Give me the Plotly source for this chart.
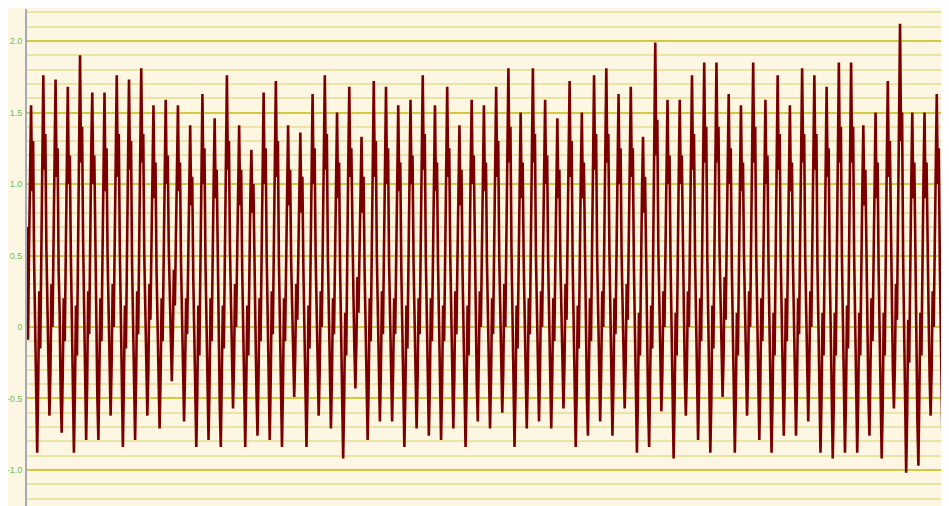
import plotly.graph_objects as go

# Signal values, left to right (peaks/troughs of each wave with the
# jitter inside the dark bands). Split into several short segments.
seg_start = [0.70, -0.09, 0.55, 1.15]
seg_a = [
    1.55, 0.95, 1.30, 0.45, 0.05, -0.55, -0.88, -0.40, 0.25, -0.15, 0.65, 1.05,
    1.76, 1.10, 1.35, 0.55, 0.20, -0.35, -0.62, -0.30, 0.30, 0.00, 0.70, 1.20,
    1.73, 1.05, 1.25, 0.40, 0.10, -0.45, -0.74, -0.35, 0.20, -0.10, 0.60, 1.10,
    1.68, 1.00, 1.20, 0.50, 0.00, -0.60, -0.88, -0.45, 0.15, -0.20, 0.55, 1.15,
    1.90, 1.15, 1.40, 0.60, 0.15, -0.50, -0.79, -0.40, 0.25, -0.05, 0.70, 1.25,
    1.64, 1.00, 1.20, 0.45, 0.05, -0.50, -0.79, -0.35, 0.20, -0.10, 0.60, 1.05,
    1.64, 0.95, 1.25, 0.50, 0.20, -0.30, -0.62, -0.25, 0.30, 0.00, 0.65, 1.15,
    1.76, 1.05, 1.35, 0.55, 0.05, -0.55, -0.84, -0.40, 0.15, -0.15, 0.60, 1.20,
    1.73, 1.10, 1.30, 0.45, 0.10, -0.50, -0.79, -0.35, 0.25, -0.05, 0.70, 1.25,
    1.81, 1.15, 1.35, 0.50, 0.20, -0.30, -0.62, -0.30, 0.30, 0.05, 0.65, 1.05,
    1.55, 0.90, 1.15, 0.40, 0.05, -0.45, -0.71, -0.35, 0.20, -0.10, 0.55, 1.10,
    1.59, 1.00, 1.20, 0.55, 0.30, -0.10, -0.38, -0.05, 0.40, 0.15, 0.70, 1.10,
    1.55, 0.95, 1.15, 0.45, 0.10, -0.40, -0.66, -0.30, 0.20, -0.05, 0.50, 0.95,
    1.41, 0.85, 1.05, 0.35, 0.00, -0.55, -0.84, -0.45, 0.15, -0.20, 0.55, 1.05,
    1.63, 1.00, 1.25, 0.45, 0.05, -0.50, -0.79, -0.40, 0.20, -0.10, 0.60, 1.00,
]
seg_b = [
    1.46, 0.90, 1.10, 0.40, 0.00, -0.55, -0.84, -0.45, 0.15, -0.15, 0.65, 1.20,
    1.76, 1.10, 1.30, 0.55, 0.20, -0.30, -0.57, -0.25, 0.30, 0.00, 0.55, 1.00,
    1.41, 0.85, 1.10, 0.40, 0.05, -0.55, -0.84, -0.40, 0.15, -0.20, 0.50, 0.90,
    1.24, 0.80, 1.00, 0.35, 0.00, -0.45, -0.76, -0.35, 0.20, -0.10, 0.60, 1.10,
    1.64, 1.00, 1.25, 0.50, 0.10, -0.50, -0.79, -0.35, 0.25, -0.05, 0.65, 1.15,
    1.72, 1.05, 1.30, 0.45, 0.05, -0.55, -0.84, -0.40, 0.20, -0.10, 0.55, 1.00,
    1.41, 0.85, 1.10, 0.45, 0.15, -0.25, -0.49, -0.20, 0.30, 0.05, 0.55, 0.95,
    1.36, 0.80, 1.05, 0.40, 0.00, -0.55, -0.84, -0.45, 0.15, -0.15, 0.60, 1.10,
    1.63, 1.00, 1.25, 0.50, 0.15, -0.35, -0.62, -0.30, 0.25, 0.00, 0.70, 1.20,
    1.76, 1.10, 1.35, 0.50, 0.10, -0.40, -0.71, -0.35, 0.20, -0.05, 0.60, 1.05,
    1.50, 0.90, 1.15, 0.40, 0.00, -0.60, -0.92, -0.50, 0.10, -0.20, 0.65, 1.15,
    1.68, 1.05, 1.25, 0.55, 0.25, -0.15, -0.43, -0.10, 0.35, 0.10, 0.55, 0.95,
    1.33, 0.80, 1.05, 0.40, 0.05, -0.50, -0.79, -0.40, 0.20, -0.10, 0.65, 1.15,
    1.72, 1.05, 1.30, 0.50, 0.10, -0.40, -0.66, -0.30, 0.25, -0.05, 0.60, 1.10,
    1.68, 1.00, 1.25, 0.45, 0.10, -0.40, -0.66, -0.30, 0.20, -0.05, 0.55, 1.00,
]
seg_c = [
    1.55, 0.95, 1.15, 0.40, 0.00, -0.55, -0.84, -0.45, 0.15, -0.15, 0.60, 1.05,
    1.59, 1.00, 1.20, 0.45, 0.10, -0.45, -0.71, -0.35, 0.20, -0.05, 0.65, 1.15,
    1.76, 1.10, 1.35, 0.50, 0.05, -0.50, -0.76, -0.40, 0.20, -0.10, 0.60, 1.05,
    1.55, 0.95, 1.15, 0.45, 0.05, -0.50, -0.79, -0.40, 0.15, -0.10, 0.65, 1.10,
    1.68, 1.05, 1.25, 0.50, 0.10, -0.45, -0.71, -0.35, 0.25, -0.05, 0.55, 0.95,
    1.41, 0.85, 1.10, 0.40, 0.00, -0.55, -0.84, -0.45, 0.15, -0.20, 0.60, 1.10,
    1.59, 1.00, 1.20, 0.50, 0.15, -0.40, -0.66, -0.30, 0.25, 0.00, 0.60, 1.05,
    1.55, 0.95, 1.15, 0.45, 0.10, -0.45, -0.71, -0.35, 0.20, -0.05, 0.65, 1.15,
    1.68, 1.05, 1.30, 0.50, 0.15, -0.35, -0.60, -0.30, 0.30, 0.00, 0.70, 1.25,
    1.81, 1.15, 1.40, 0.55, 0.05, -0.55, -0.84, -0.45, 0.15, -0.15, 0.55, 1.00,
    1.50, 0.90, 1.15, 0.45, 0.10, -0.45, -0.71, -0.35, 0.20, -0.05, 0.70, 1.25,
    1.81, 1.15, 1.35, 0.50, 0.10, -0.40, -0.66, -0.30, 0.25, 0.00, 0.60, 1.05,
    1.59, 1.00, 1.20, 0.45, 0.05, -0.45, -0.71, -0.35, 0.20, -0.10, 0.55, 1.00,
    1.46, 0.90, 1.10, 0.45, 0.15, -0.30, -0.57, -0.25, 0.30, 0.05, 0.65, 1.15,
    1.72, 1.05, 1.30, 0.45, 0.05, -0.55, -0.84, -0.45, 0.15, -0.15, 0.60, 1.05,
]
seg_d = [
    1.50, 0.90, 1.15, 0.45, 0.05, -0.50, -0.76, -0.40, 0.20, -0.10, 0.65, 1.15,
    1.76, 1.10, 1.35, 0.50, 0.10, -0.40, -0.66, -0.30, 0.25, 0.00, 0.70, 1.20,
    1.81, 1.15, 1.35, 0.55, 0.10, -0.45, -0.76, -0.40, 0.20, -0.05, 0.60, 1.05,
    1.63, 1.00, 1.25, 0.50, 0.20, -0.30, -0.57, -0.25, 0.30, 0.05, 0.65, 1.10,
    1.68, 1.05, 1.25, 0.45, 0.00, -0.60, -0.88, -0.50, 0.10, -0.20, 0.55, 0.95,
    1.33, 0.80, 1.05, 0.40, 0.00, -0.55, -0.84, -0.45, 0.15, -0.15, 0.70, 1.30,
    1.99, 1.20, 1.45, 0.55, 0.15, -0.35, -0.59, -0.30, 0.25, 0.00, 0.60, 1.05,
    1.59, 1.00, 1.20, 0.45, 0.00, -0.60, -0.92, -0.50, 0.10, -0.20, 0.60, 1.05,
    1.59, 1.00, 1.20, 0.50, 0.15, -0.35, -0.62, -0.30, 0.25, 0.00, 0.70, 1.20,
    1.76, 1.10, 1.35, 0.50, 0.05, -0.50, -0.79, -0.40, 0.20, -0.10, 0.65, 1.20,
    1.85, 1.15, 1.40, 0.50, 0.00, -0.60, -0.88, -0.50, 0.15, -0.15, 0.70, 1.25,
    1.85, 1.15, 1.40, 0.55, 0.20, -0.25, -0.49, -0.20, 0.35, 0.05, 0.60, 1.05,
    1.63, 1.00, 1.25, 0.45, 0.00, -0.60, -0.88, -0.50, 0.10, -0.20, 0.55, 1.00,
    1.55, 0.95, 1.15, 0.50, 0.15, -0.35, -0.62, -0.30, 0.25, 0.00, 0.70, 1.25,
    1.85, 1.15, 1.40, 0.50, 0.05, -0.50, -0.79, -0.40, 0.20, -0.10, 0.60, 1.05,
]
seg_e = [
    1.59, 1.00, 1.20, 0.45, 0.00, -0.60, -0.88, -0.50, 0.10, -0.20, 0.65, 1.15,
    1.76, 1.10, 1.35, 0.50, 0.05, -0.50, -0.76, -0.40, 0.20, -0.10, 0.60, 1.05,
    1.55, 0.95, 1.15, 0.45, 0.05, -0.50, -0.76, -0.40, 0.20, -0.05, 0.70, 1.25,
    1.81, 1.15, 1.35, 0.50, 0.10, -0.40, -0.66, -0.30, 0.25, 0.00, 0.65, 1.20,
    1.76, 1.10, 1.35, 0.45, 0.00, -0.60, -0.88, -0.50, 0.10, -0.20, 0.60, 1.10,
    1.68, 1.05, 1.25, 0.45, -0.05, -0.65, -0.92, -0.55, 0.10, -0.20, 0.70, 1.25,
    1.85, 1.15, 1.40, 0.50, 0.00, -0.60, -0.88, -0.50, 0.15, -0.15, 0.70, 1.25,
    1.85, 1.15, 1.40, 0.50, 0.00, -0.60, -0.88, -0.50, 0.10, -0.20, 0.55, 0.95,
    1.41, 0.85, 1.10, 0.40, 0.05, -0.50, -0.76, -0.40, 0.20, -0.10, 0.60, 1.05,
    1.50, 0.90, 1.15, 0.40, -0.05, -0.65, -0.92, -0.55, 0.10, -0.20, 0.65, 1.15,
    1.72, 1.05, 1.30, 0.55, 0.20, -0.30, -0.57, -0.25, 0.30, 0.05, 0.75, 1.35,
    2.12, 1.30, 1.50, 0.50, -0.05, -0.70, -1.02, -0.60, 0.05, -0.25, 0.55, 1.00,
    1.50, 0.90, 1.15, 0.40, -0.05, -0.65, -0.97, -0.55, 0.10, -0.20, 0.60, 1.05,
    1.50, 0.90, 1.15, 0.45, 0.10, -0.35, -0.62, -0.30, 0.25, 0.00, 0.65, 1.10,
    1.63, 1.00, 1.25, 0.45, -0.05, -0.70, -1.02, -0.60, 0.05, -0.25, 0.65, 1.20,
]
seg_end = [1.76]

y_tick_values = [2.0, 1.5, 1.0, 0.5, 0.0, -0.5, -1.0]
y_tick_labels = ["2.0", "1.5", "1.0", "0.5", "0", "-0.5", "-1.0"]

values = seg_start + seg_a + seg_b + seg_c + seg_d + seg_e + seg_end
xs = list(range(len(values)))

# The page body has an 8 px margin, so the figure is drawn 8 px right and down.
BODY = 8
W, H = 949 - BODY, 506 - BODY
ML, MT = 27 - BODY, 9 - BODY

fig = go.Figure()
fig.add_trace(go.Scatter(
    x=xs, y=values, mode="lines",
    line=dict(color="#7a0000", width=2.6),
    hoverinfo="skip", showlegend=False,
))

fig.update_layout(
    width=W, height=H,
    margin=dict(l=ML, r=0, t=MT, b=0, pad=0, autoexpand=False),
    paper_bgcolor="#fdf6e2",
    plot_bgcolor="#fdf6e2",
    showlegend=False,
    xaxis=dict(visible=False, range=[0, len(values) - 1], automargin=False),
    yaxis=dict(
        range=[-1.252, 2.224],
        automargin=False,
        tickmode="array", tickvals=y_tick_values, ticktext=y_tick_labels,
        showgrid=True, gridcolor="#d3c93e", gridwidth=2,
        zeroline=False,
        showline=True, linecolor="#a7aab8", linewidth=2,
        ticks="", ticklabelstandoff=1,
        tickfont=dict(family="Liberation Sans, Arial", size=9, color="#6cbf5c"),
        minor=dict(tickmode="linear", tick0=0, dtick=0.1, showgrid=True,
                   gridcolor="#ebe4a9", gridwidth=2, ticks=""),
        fixedrange=True,
    ),
)

fig.write_html("out.html")
